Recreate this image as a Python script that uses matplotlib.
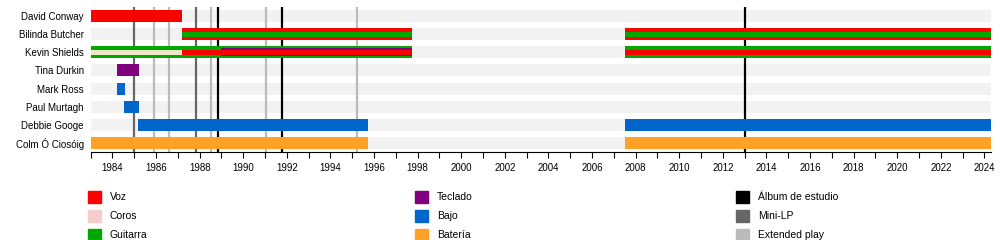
import matplotlib
matplotlib.use('Agg')
import matplotlib.pyplot as plt
from matplotlib.patches import Rectangle

# ── Datos ────────────────────────────────────────────────────────────────────

miembros = ['David Conway', 'Bilinda Butcher', 'Kevin Shields', 'Tina Durkin',
            'Mark Ross', 'Paul Murtagh', 'Debbie Googe', 'Colm Ó Ciosóig']

X_INI, X_FIN = 1983.0, 2024.3

# (miembro, rol, inicio, fin, capa)  capa: 0 = completo, 1 = medio, 2 = centro
periodos = [
    ('David Conway',    'Voz',      1983.0,  1987.2,  0),
    ('Bilinda Butcher', 'Voz',      1987.2,  1997.75, 0),
    ('Bilinda Butcher', 'Guitarra', 1987.2,  1997.75, 2),
    ('Bilinda Butcher', 'Voz',      2007.52, X_FIN,   0),
    ('Bilinda Butcher', 'Guitarra', 2007.52, X_FIN,   2),
    ('Kevin Shields',   'Guitarra', 1983.0,  1997.75, 0),
    ('Kevin Shields',   'Coros',    1983.0,  1987.2,  2),
    ('Kevin Shields',   'Voz',      1987.2,  1988.98, 2),
    ('Kevin Shields',   'Teclado',  1988.98, 1997.75, 1),
    ('Kevin Shields',   'Voz',      1988.98, 1997.75, 2),
    ('Kevin Shields',   'Guitarra', 2007.52, X_FIN,   0),
    ('Kevin Shields',   'Voz',      2007.52, X_FIN,   2),
    ('Tina Durkin',     'Teclado',  1984.2,  1985.22, 0),
    ('Mark Ross',       'Bajo',     1984.2,  1984.57, 0),
    ('Paul Murtagh',    'Bajo',     1984.53, 1985.22, 0),
    ('Debbie Googe',    'Bajo',     1985.17, 1995.72, 0),
    ('Debbie Googe',    'Bajo',     2007.52, X_FIN,   0),
    ('Colm Ó Ciosóig',  'Batería',  1983.0,  1995.72, 0),
    ('Colm Ó Ciosóig',  'Batería',  2007.52, X_FIN,   0),
]

albumes_estudio = [1988.84, 1991.77, 2013.01]
mini_lps        = [1984.99, 1987.83]
eps             = [1985.9, 1986.59, 1988.52, 1991.04, 1995.21]

colores = {
    'Voz':      '#ff0000',
    'Coros':    '#f7cccc',
    'Guitarra': '#00a800',
    'Teclado':  '#800080',
    'Bajo':     '#0066cc',
    'Batería':  '#ffa126',
    'Álbum de estudio': '#000000',
    'Mini-LP':  '#666666',
    'Extended play': '#bbbbbb',
}
color_coros_barra = '#ede6c8'

leyenda = [['Voz', 'Coros', 'Guitarra'],
           ['Teclado', 'Bajo', 'Batería'],
           ['Álbum de estudio', 'Mini-LP', 'Extended play']]

# ── Figura ───────────────────────────────────────────────────────────────────

fig = plt.figure(figsize=(10, 2.4), dpi=100)
ax = fig.add_axes([0.0907, 1 - 152 / 240, 0.991 - 0.0907, 145 / 240])

ALTO = 0.66
alto_capa = {0: ALTO, 1: ALTO * 0.66, 2: ALTO * 0.44}

# franjas de fondo
for i in range(len(miembros)):
    ax.barh(i, X_FIN - X_INI, left=X_INI, height=ALTO, color='#f2f2f2', zorder=0)

for xs, c in [(eps, colores['Extended play']), (mini_lps, colores['Mini-LP']),
              (albumes_estudio, colores['Álbum de estudio'])]:
    for x in xs:
        ax.axvline(x, color=c, lw=1.6, zorder=1)

for nombre, rol, ini, fin, capa in periodos:
    y = miembros.index(nombre)
    c = colores[rol]
    if rol == 'Coros':
        c = color_coros_barra
    ax.barh(y, fin - ini, left=ini, height=alto_capa[capa], color=c,
            zorder=2 + capa, linewidth=0)

ax.set_xlim(X_INI, X_FIN)
ax.set_ylim(len(miembros) - 0.5, -0.5)
ax.set_yticks(range(len(miembros)))
ax.set_yticklabels(miembros, fontsize=7, family=['Liberation Sans', 'DejaVu Sans'])
ax.tick_params(axis='y', length=0, pad=5)

ax.set_xticks(range(1984, 2025, 2))
ax.set_xticks(range(1983, 2025), minor=True)
ax.set_xticklabels([str(a) for a in range(1984, 2025, 2)], fontsize=7,
                   family=['Liberation Sans Narrow', 'Liberation Sans'])
ax.tick_params(axis='x', which='both', length=4, width=0.8, pad=4, direction='out')

for s in ['top', 'right', 'left']:
    ax.spines[s].set_visible(False)
ax.spines['bottom'].set_linewidth(0.8)

# leyenda manual
col_x = [88, 415, 736]
fila_y = [197, 216, 235]
for ci, col in enumerate(leyenda):
    for fi, rol in enumerate(col):
        x0, y0 = col_x[ci], fila_y[fi]
        fig.patches.append(Rectangle((x0 / 1000, 1 - (y0 + 6) / 240), 13 / 1000, 12 / 240,
                                     transform=fig.transFigure, color=colores[rol]))
        fig.text((x0 + 22) / 1000, 1 - y0 / 240, rol, fontsize=7.5, va='center',
                 family=['Liberation Sans Narrow', 'Liberation Sans', 'DejaVu Sans'])

fig.savefig('out.png', dpi=100)
